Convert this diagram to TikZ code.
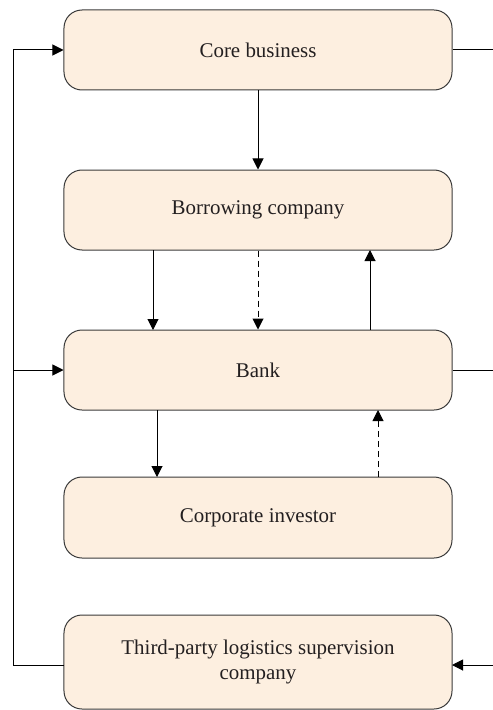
\documentclass[tikz,border=0pt]{standalone}
\usepackage{fontspec}
\setmainfont{Liberation Serif}
\usetikzlibrary{arrows.meta,calc}
\definecolor{boxfill}{HTML}{FDEFE0}
\definecolor{boxline}{HTML}{3A3A3A}
\definecolor{txt}{HTML}{231F20}
\begin{document}
\begin{tikzpicture}[x=1bp,y=-1bp,
  box/.style={draw=boxline,fill=boxfill,line width=1bp,rounded corners=18bp,
    minimum width=388bp,inner sep=0pt,align=center,text=txt,
    font=\fontsize{21}{26}\selectfont},
  conn/.style={line width=1bp,draw=black},
  arr/.style={conn,-{Triangle[length=11bp,width=11bp]}},
  dsh/.style={arr,dash pattern=on 6bp off 4bp}]
\useasboundingbox (0,0) rectangle (493,710);
\node[box,minimum height=80bp] (core) at (258,50) {Core business};
\node[box,minimum height=80bp] (borrow) at (258,210) {Borrowing company};
\node[box,minimum height=80bp] (bank) at (258,370) {Bank};
\node[box,minimum height=81bp] (corp) at (258,517.5) {Corporate investor};
\node[box,minimum height=94bp] (tp) at (258,662) {Third-party logistics supervision\\company};
\coordinate (tpL) at (64,665);
\coordinate (tpR) at (452,665);
\coordinate (lx) at (13,665);
\coordinate (coreR) at (493,50);
\coordinate (bankR) at (493,370);
\coordinate (tpRR) at (493,665);
% main flow
\draw[arr] (core.south) -- (borrow.north);
\draw[arr] (153,250) -- (153,330);
\draw[dsh] (borrow.south) -- (bank.north);
\draw[arr] (370,330) -- (370,250);
\draw[arr] (157,410) -- (157,477);
\draw[dsh] (378,477) -- (378,410);
% left loop
\draw[conn] (tpL) -- (lx) -- (13,50);
\draw[arr] (13,50) -- (core.west);
\draw[arr] (13,370) -- (bank.west);
% right side
\draw[conn] (core.east) -- (coreR);
\draw[conn] (bank.east) -- (bankR);
\draw[arr] (tpRR) -- (tpR);
\end{tikzpicture}
\end{document}
